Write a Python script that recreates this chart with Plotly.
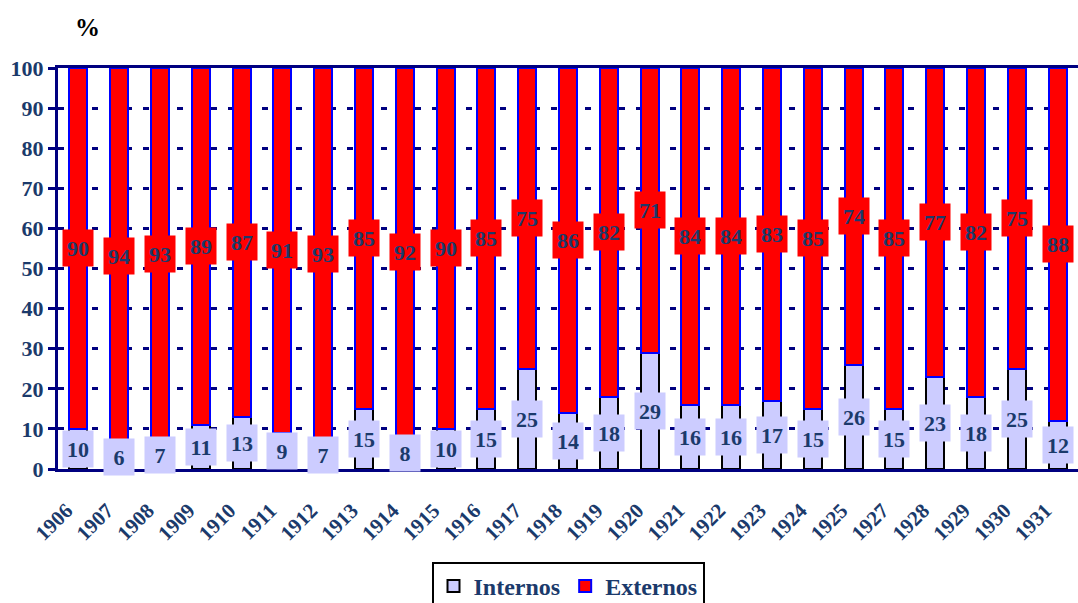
import plotly.graph_objects as go

years = ["1906", "1907", "1908", "1909", "1910", "1911", "1912", "1913", "1914",
         "1915", "1916", "1917", "1918", "1919", "1920", "1921", "1922", "1923",
         "1924", "1925", "1927", "1928", "1929", "1930", "1931"]
internos = [10, 6, 7, 11, 13, 9, 7, 15, 8, 10, 15, 25, 14, 18, 29, 16, 16, 17,
            15, 26, 15, 23, 18, 25, 12]
externos = [90, 94, 93, 89, 87, 91, 93, 85, 92, 90, 85, 75, 86, 82, 71, 84, 84, 83,
            85, 74, 85, 77, 82, 75, 88]
y_ticks = [0, 10, 20, 30, 40, 50, 60, 70, 80, 90, 100]

NAVY = "#000080"
TEXT = "#1B3A6B"
SERIF = "Liberation Serif"

fig = go.Figure()
fig.add_trace(go.Bar(
    name="Internos", x=years, y=internos,
    marker=dict(color="#CCCCFF", line=dict(color="black", width=2)),
    width=0.44,
))
fig.add_trace(go.Bar(
    name="Externos", x=years, y=externos,
    marker=dict(color="#FF0000", line=dict(color="#0000FF", width=2)),
    width=0.44,
))

# value labels with coloured boxes centred on each segment
annotations = []
for idx, (i_val, e_val) in enumerate(zip(internos, externos)):
    annotations.append(dict(
        x=idx, y=i_val / 2, xref="x", yref="y", text=str(i_val),
        showarrow=False,
        font=dict(family=SERIF, size=22, color=TEXT, weight="bold"),
        bgcolor="#CCCCFF", borderpad=4, width=22, height=28,
    ))
    annotations.append(dict(
        x=idx, y=i_val + e_val / 2, xref="x", yref="y", text=str(e_val),
        showarrow=False,
        font=dict(family=SERIF, size=22, color=TEXT, weight="bold"),
        bgcolor="#FF0000", borderpad=4, width=22, height=28,
    ))
# unit label above the value axis
annotations.append(dict(
    xref="paper", yref="paper", x=(87 - 58) / 1020, y=1 + (68 - 27) / 401,
    xanchor="center", yanchor="middle", text="%", showarrow=False,
    font=dict(family=SERIF, size=25, color="black", weight="bold"),
))

fig.update_layout(
    width=1078, height=603,
    margin=dict(l=58, r=0, t=68, b=134),
    barmode="stack",
    bargap=0.56,
    plot_bgcolor="white",
    paper_bgcolor="white",
    annotations=annotations,
    showlegend=True,
    legend=dict(
        orientation="h", traceorder="normal",
        xref="paper", x=0.5, xanchor="center",
        yref="container", y=(603 - 562) / 603, yanchor="top",
        font=dict(family=SERIF, size=24, color=TEXT, weight="bold"),
        bordercolor="black", borderwidth=2, bgcolor="white",
        itemwidth=30,
    ),
)
fig.update_xaxes(
    type="category",
    range=[-0.5, 24.5],
    tickangle=-45,
    tickfont=dict(family=SERIF, size=21, color=TEXT, weight="bold"),
    ticklabelstandoff=18, ticklabelshift=-12,
    showline=True, linecolor=NAVY, linewidth=3, mirror=True,
    showgrid=False, ticks="",
)
fig.update_yaxes(
    range=[0, 100],
    tickvals=y_ticks,
    tickfont=dict(family=SERIF, size=22, color=TEXT, weight="bold"),
    showline=True, linecolor=NAVY, linewidth=3,
    ticks="outside", ticklen=7, tickwidth=3, tickcolor=NAVY,
    showgrid=True, gridcolor=NAVY, gridwidth=3, griddash="6px,11px",
    zeroline=False,
)

fig.write_html("out.html")
